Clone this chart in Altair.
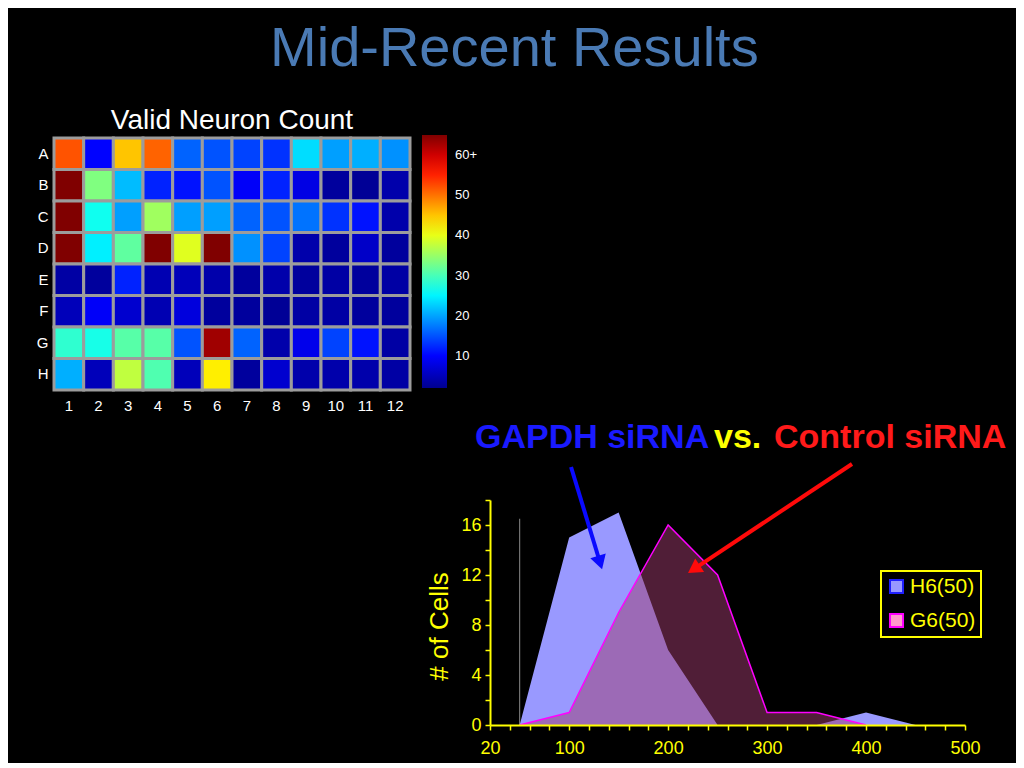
import altair as alt
import pandas as pd

# ---------------- heat map (valid neuron count per well) ----------------
rows = list("ABCDEFGH")
cols = list(range(1, 13))
counts = [
    [52, 10, 45, 51, 16, 15, 14, 13, 23.5, 19.7, 20.7, 18.8],   # A
    [65, 33.5, 21.5, 12, 11, 15, 9.5, 12, 8, 3, 2.5, 4],         # B
    [65, 26.5, 19.7, 35.5, 19.7, 19.7, 16, 15, 17, 13, 11, 4],   # C
    [65, 24.7, 31.5, 65, 39.5, 65, 18.8, 14, 4, 3, 6, 3],        # D
    [3.5, 3, 12, 4.5, 5, 4, 3, 4, 3, 3.5, 3, 3.5],               # E
    [5, 9.5, 6.5, 4.5, 7.5, 3, 3, 2.5, 3.5, 3.5, 3, 3],          # F
    [28.5, 27, 31, 31, 15, 63, 16, 4, 8.5, 14, 11, 3.5],         # G
    [20.7, 5, 37.5, 30.5, 5, 42.4, 3, 6.5, 4, 4, 4, 3.5],        # H
]
jet_stops = [2, 9.9, 25.6, 41.4, 57.1, 65]
jet_colors = ["#00008f", "#0000ff", "#00ffff", "#ffff00", "#ff0000", "#800000"]
bar_ticks = [10, 20, 30, 40, 50, 60]

# ---------------- histogram ----------------
bins = [50, 100, 150, 200, 250, 300, 350, 400, 450]
h6 = [0, 15, 17, 6, 0, 0, 0, 1, 0]
g6_bins = [50, 100, 150, 200, 250, 300, 350, 400]
g6 = [0, 1, 9, 16, 12, 1, 1, 0]
series_names = ["H6(50)", "G6(50)"]
series_fill = ["#9999ff", "#ff99cc"]
series_stroke = ["#2020ff", "#ff00ff"]
x_ticks = list(range(20, 501, 20))
x_labels = [20, 100, 200, 300, 400, 500]
y_ticks = list(range(0, 19, 2))

marker_x = [50]
marker_y = [0]
marker_y2 = [16.5]

ann_text = ["GAPDH siRNA", "vs.", "Control siRNA"]
ann_x = [4.8, 246.4, 307.0]
ann_y = [23, 23, 23]
ann_color = ["#1a1aff", "#ffff00", "#ff1a1a"]

arrow_x = [101.9, 385.8]
arrow_y = [20.64, 20.88]
arrow_x2 = [131.2, 226.0]
arrow_y2 = [13.0, 12.47]
arrow_angle = [163.1, 236.4]
arrow_color = ["#0a0aff", "#ff0a0a"]

FONT = "Liberation Sans"
YEL = "#ffff00"

heat_df = pd.DataFrame(
    [{"row": r, "col": c, "count": counts[i][j]}
     for i, r in enumerate(rows) for j, c in enumerate(cols)]
)

heat = alt.Chart(heat_df).mark_rect(stroke="#9c9c9c", strokeWidth=3).encode(
    x=alt.X("col:O", sort=cols, scale=alt.Scale(paddingInner=0, paddingOuter=0),
            axis=alt.Axis(title=None, labelAngle=0, ticks=False, domain=False,
                          labelColor="white", labelFontSize=15, labelFont=FONT,
                          labelPadding=8)),
    y=alt.Y("row:O", sort=rows, scale=alt.Scale(paddingInner=0, paddingOuter=0),
            axis=alt.Axis(title=None, ticks=False, domain=False,
                          labelColor="white", labelFontSize=15, labelFont=FONT,
                          labelPadding=6)),
    color=alt.Color("count:Q",
                    scale=alt.Scale(domain=jet_stops, range=jet_colors,
                                    interpolate="rgb", clamp=True),
                    legend=alt.Legend(title=None, orient="none", legendX=368, legendY=-3,
                                      direction="vertical", gradientLength=253,
                                      gradientThickness=25, values=bar_ticks,
                                      labelExpr="datum.value == 60 ? '60+' : datum.label",
                                      labelColor="white", labelFontSize=13, labelFont=FONT,
                                      labelOffset=8, gradientStrokeWidth=0,
                                      labelOverlap=False)),
).properties(
    width=356, height=252,
    title=alt.TitleParams("Valid Neuron Count", color="white", fontSize=28, font=FONT,
                          fontWeight="normal", anchor="middle", baseline="bottom", offset=-26),
)

# long-format histogram table
hist_rows = [{"series": "H6(50)", "bin": b, "count": v} for b, v in zip(bins, h6)]
hist_rows += [{"series": "G6(50)", "bin": b, "count": v} for b, v in zip(g6_bins, g6)]
hist_df = pd.DataFrame(hist_rows)

xs = alt.Scale(domain=[20, 500], nice=False, zero=False)
ys = alt.Scale(domain=[0, 18], nice=False, zero=False)

x_axis = alt.Axis(values=x_ticks, title=None,
                  labelExpr="indexof([20,100,200,300,400,500], datum.value) >= 0 ? datum.label : ''",
                  labelColor=YEL, labelFontSize=18, labelFont=FONT, labelFlush=False,
                  labelOverlap=False, domainColor=YEL, domainWidth=2, tickColor=YEL,
                  tickWidth=1.5, tickSize=5, labelPadding=9, grid=False, zindex=1)
y_axis = alt.Axis(values=y_ticks, title="# of Cells",
                  labelExpr="datum.value % 4 == 0 ? datum.label : ''",
                  labelColor=YEL, labelFontSize=18, labelFont=FONT, labelFlush=False,
                  labelOverlap=False, domainColor=YEL, domainWidth=2, tickColor=YEL,
                  tickWidth=1.5, tickSize=5, labelPadding=4, grid=False, zindex=1,
                  titleColor=YEL, titleFontSize=26, titleFont=FONT, titleFontWeight="normal",
                  titlePadding=8, titleY=126)


def X(field):
    return alt.X(field, scale=xs, axis=x_axis)


def Y(field):
    return alt.Y(field, scale=ys, axis=y_axis)


base = alt.Chart(hist_df)

marker = alt.Chart(pd.DataFrame({"x": marker_x, "y": marker_y, "y2": marker_y2})).mark_rule(
    color="#8a8a8a", strokeWidth=1).encode(x=X("x:Q"), y=Y("y:Q"), y2="y2:Q")

h6_area = base.transform_filter(alt.datum.series == "H6(50)").mark_area(
    color="#9999ff", opacity=1).encode(x=X("bin:Q"), y=Y("count:Q"))

g6_area = base.transform_filter(alt.datum.series == "G6(50)").mark_area(
    color="#a03c6e", fillOpacity=0.5).encode(x=X("bin:Q"), y=Y("count:Q"))

g6_line = base.transform_filter(alt.datum.series == "G6(50)").mark_line(
    color="#ff00ff", strokeWidth=1.5).encode(x=X("bin:Q"), y=Y("count:Q"))

leg = alt.Legend(title=None, orient="none", legendX=827, legendY=433, symbolType="square",
                 symbolSize=170, symbolStrokeWidth=2, symbolOpacity=1,
                 labelColor=YEL, labelFontSize=21, labelFont=FONT,
                 strokeColor=YEL, fillColor="#000000", padding=5, rowPadding=11,
                 labelOffset=3)
legend_layer = alt.Chart(pd.DataFrame({"series": series_names, "bin": [20, 20], "count": [0, 0]})).mark_point(
    shape="square", filled=True, opacity=0).encode(
    x=X("bin:Q"), y=Y("count:Q"),
    fill=alt.Fill("series:N", scale=alt.Scale(domain=series_names, range=series_fill),
                  sort=series_names, legend=leg),
    stroke=alt.Stroke("series:N", scale=alt.Scale(domain=series_names, range=series_stroke),
                      sort=series_names, legend=leg),
)

ann_df = pd.DataFrame({"label": ann_text, "x": ann_x, "y": ann_y, "color": ann_color})
ann = alt.Chart(ann_df).mark_text(align="left", baseline="middle", fontSize=34,
                                   fontWeight="bold", font=FONT).encode(
    x=X("x:Q"), y=Y("y:Q"), text="label:N",
    color=alt.Color("color:N", scale=None))

arr_df = pd.DataFrame({"x": arrow_x, "y": arrow_y, "x2": arrow_x2, "y2": arrow_y2,
                       "angle": arrow_angle, "color": arrow_color})
arr_line = alt.Chart(arr_df).mark_rule(strokeWidth=4).encode(
    x=X("x:Q"), y=Y("y:Q"), x2="x2:Q", y2="y2:Q",
    color=alt.Color("color:N", scale=None))
arr_head = alt.Chart(arr_df).mark_point(shape="triangle-up", filled=True, size=260, opacity=1).encode(
    x=X("x2:Q"), y=Y("y2:Q"),
    angle=alt.Angle("angle:Q", scale=None),
    color=alt.Color("color:N", scale=None))

hist = alt.layer(marker, h6_area, g6_area, g6_line, legend_layer, ann, arr_line, arr_head).properties(
    width=475, height=225)

spacer = alt.Chart(pd.DataFrame({"s": [0]})).mark_point(opacity=0).encode(
    x=alt.X("s:Q", axis=None), y=alt.Y("s:Q", axis=None)).properties(width=436, height=225)

bottom = alt.hconcat(spacer, hist, spacing=0, bounds="flush")

chart = alt.vconcat(heat, bottom, spacing=110, bounds="flush").properties(
    title=alt.TitleParams("Mid-Recent Results", fontSize=56, color="#4a7ab4", font=FONT,
                          fontWeight="normal", anchor="middle", offset=29, dx=-7),
    background="black",
    padding={"left": 28, "top": 12, "right": 9, "bottom": 6},
).configure(font=FONT).configure_view(strokeWidth=0).configure_legend(strokeWidth=2)

chart.save("out.html", embed_options={"renderer": "svg", "actions": False})
